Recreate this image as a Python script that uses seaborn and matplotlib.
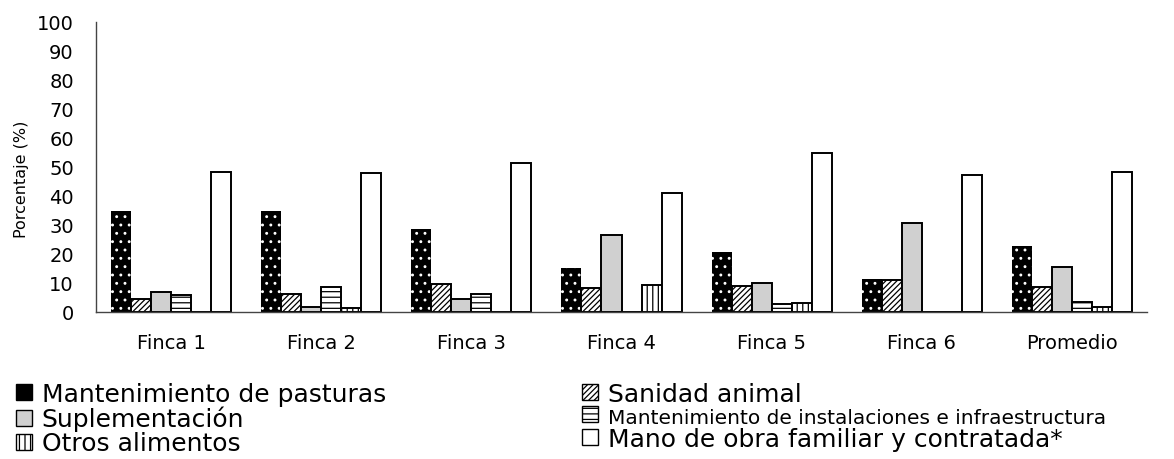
import matplotlib
matplotlib.use("Agg")
import matplotlib.pyplot as plt
import seaborn as sns
import pandas as pd
from matplotlib.patches import Patch

categories = ["Finca 1", "Finca 2", "Finca 3", "Finca 4", "Finca 5", "Finca 6", "Promedio"]
series_names = ["Mantenimiento de pasturas", "Sanidad animal", "Suplementación",
                "Mantenimiento de instalaciones e infraestructura", "Otros alimentos",
                "Mano de obra familiar y contratada*"]
pasturas = [34.8, 34.8, 28.6, 15.2, 20.8, 11.4, 22.6]
sanidad = [4.5, 6.3, 9.5, 8.2, 9.0, 10.9, 8.7]
suplementacion = [7.0, 1.6, 4.5, 26.7, 9.9, 30.8, 15.4]
instalaciones = [5.9, 8.7, 6.1, 0.0, 2.6, 0.0, 3.6]
otros = [0.0, 1.3, 0.0, 9.3, 3.2, 0.0, 1.7]
mano_obra = [48.2, 47.8, 51.4, 41.0, 54.7, 47.2, 48.4]
yticks = list(range(0, 101, 10))

values = [pasturas, sanidad, suplementacion, instalaciones, otros, mano_obra]
rows = []
for name, vals in zip(series_names, values):
    for c, v in zip(categories, vals):
        rows.append({"Finca": c, "Serie": name, "Valor": v})
df = pd.DataFrame(rows)

sns.set_style("white")
plt.rcParams["font.family"] = ["DejaVu Sans"]
plt.rcParams["hatch.linewidth"] = 0.9
plt.rcParams["text.color"] = "black"
plt.rcParams["xtick.color"] = "black"
plt.rcParams["ytick.color"] = "black"
plt.rcParams["axes.labelcolor"] = "black"

fig = plt.figure(figsize=(11.74, 4.6), dpi=100)
ax = fig.add_axes([96 / 1174, 1 - 313 / 460, (1147 - 96) / 1174, 290 / 460])

sns.barplot(data=df, x="Finca", y="Valor", hue="Serie", order=categories,
            hue_order=series_names, ax=ax, width=0.8, legend=False,
            palette=["black"] * 6, saturation=1)

styles = [
    dict(facecolor="black", edgecolor="white", hatch="..", linewidth=0),
    dict(facecolor="white", edgecolor="black", hatch="//////", linewidth=1.4),
    dict(facecolor="#d0d0d0", edgecolor="black", hatch=None, linewidth=1.4),
    dict(facecolor="white", edgecolor="black", hatch="---", linewidth=1.4),
    dict(facecolor="white", edgecolor="black", hatch="|||", linewidth=1.4),
    dict(facecolor="white", edgecolor="black", hatch=None, linewidth=1.4),
]
for cont, st in zip(ax.containers, styles):
    for p in cont.patches:
        p.set_facecolor(st["facecolor"])
        p.set_edgecolor(st["edgecolor"])
        p.set_hatch(st["hatch"])
        p.set_linewidth(st["linewidth"])

ax.set_ylim(0, 100)
ax.set_xlim(-0.5, len(categories) - 0.5)
ax.set_yticks(yticks)
ax.set_yticklabels([str(t) for t in yticks], fontsize=14)
ax.set_xticks([i + 0.5 for i in range(-1, len(categories))], minor=False)
ax.set_xticklabels([])
ax.set_xticks(range(len(categories)), minor=True)
ax.set_xticklabels(categories, minor=True, fontsize=14)
ax.tick_params(axis="x", which="major", length=6, width=1, color="#444444", direction="out")
ax.tick_params(axis="x", which="minor", length=0, pad=15)
ax.tick_params(axis="y", length=7, width=1, color="#444444", direction="out", pad=9)
ax.set_xlabel("")
ax.set_ylabel("Porcentaje (%)", fontsize=11.5)
ax.yaxis.set_label_coords(-0.064, 0.46)
for s in ["top", "right"]:
    ax.spines[s].set_visible(False)
for s in ["left", "bottom"]:
    ax.spines[s].set_color("#444444")
    ax.spines[s].set_linewidth(1)

handles = []
for name, st in zip(series_names, styles):
    if st["facecolor"] == "black":
        handles.append(Patch(facecolor="black", edgecolor="black", linewidth=1.0, label=name))
    else:
        handles.append(Patch(facecolor=st["facecolor"], edgecolor="black", hatch=st["hatch"],
                             linewidth=1.0, label=name))

left_idx = [0, 2, 4]
right_idx = [1, 3, 5]
common = dict(loc="upper left", frameon=False, fontsize=18, handlelength=0.62,
              handleheight=0.62, handletextpad=0.4, labelspacing=0.0,
              borderpad=0, borderaxespad=0)
leg1 = fig.legend([handles[i] for i in left_idx], [series_names[i] for i in left_idx],
                  bbox_to_anchor=(16 / 1174, 1 - 383 / 460), **common)
leg2 = fig.legend([handles[i] for i in right_idx], [series_names[i] for i in right_idx],
                  bbox_to_anchor=(582 / 1174, 1 - 383 / 460), **common)
leg2.get_texts()[1].set_fontsize(14.5)

fig.savefig("out.png", dpi=100)
